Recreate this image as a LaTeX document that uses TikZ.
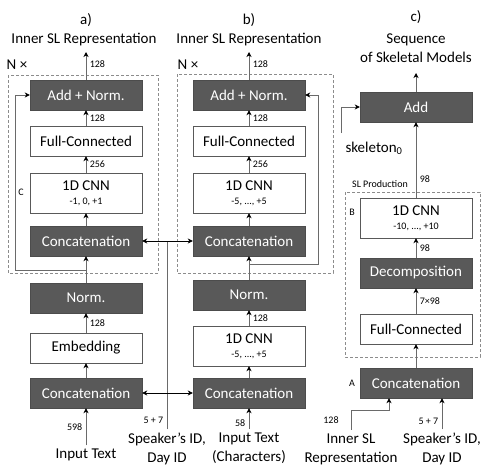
\documentclass[tikz,border=0pt]{standalone}
\usepackage{fontspec}
\setmainfont{Carlito}
\usepackage{tikz}
\usetikzlibrary{arrows.meta}
\definecolor{boxgray}{HTML}{595959}
\definecolor{linegray}{HTML}{6A6A6A}
\definecolor{dashgray}{HTML}{8C8C8C}

\begin{document}
\begin{tikzpicture}[x=1pt, y=-1pt,
  darkbox/.style={shape=rectangle, draw=boxgray!85!black, fill=boxgray, text=white, minimum width=112pt, minimum height=30pt, inner sep=0pt, font=\fontsize{15}{17}\selectfont},
  lightbox/.style={shape=rectangle, draw=boxgray, fill=white, minimum width=112pt, minimum height=30pt, inner sep=0pt, font=\fontsize{15}{17}\selectfont},
  cnnbox/.style={lightbox, minimum height=40pt, align=center},
  title/.style={align=center, font=\fontsize{15}{19}\selectfont},
  dim/.style={font=\fontsize{10}{11}\selectfont},
  flow/.style={draw=linegray, line width=0.9pt, -{Stealth[black, length=5pt, width=5pt, inset=1.5pt]}},
  both/.style={draw=black, line width=0.8pt, {Stealth[length=5pt, width=5pt, inset=1.5pt]}-{Stealth[length=5pt, width=5pt, inset=1.5pt]}},
  wire/.style={draw=linegray, line width=0.9pt},
  group/.style={draw=dashgray, dash pattern=on 3pt off 2pt, line width=0.6pt}
]
\useasboundingbox (0,0) rectangle (482,466);

% dashed groups
\draw[group] (8,75) rectangle (158,273);
\draw[group] (177,74) rectangle (333,273);
\draw[group] (345,192) rectangle (480,357);

% a)
\node[title](capA) at (86,20) {a)};
\node[title](outTA) at (84,40) {Inner SL Representation};
\node[title](nA) at (17,65) {N ×};
\node[dim](cA) at (21,192) {C};
\node[darkbox](addA) at (86,95) {Add + Norm.};
\node[lightbox](fcA) at (86,141) {Full-Connected};
\node[cnnbox](cnnA) at (86,193) {1D CNN\\[-3pt]\fontsize{10}{11}\selectfont -1, 0, +1};
\node[darkbox](catA) at (86,241) {Concatenation};
\node[darkbox](normA) at (86,298) {Norm.};
\node[lightbox](embA) at (86,348) {Embedding};
\node[darkbox](catA2) at (86,393) {Concatenation};
\node[title](inA) at (86,455) {Input Text};
\coordinate (outA) at (86,52);
\coordinate (resA) at (86,270);
\coordinate (loopA) at (15,95);

\path[flow] (addA) edge node[right, dim, pos=0.55] {128} (outA);
\path[flow] (fcA) edge node[right, dim] {128} (addA);
\path[flow] (cnnA) edge node[right, dim] {256} (fcA);
\path[flow] (catA) edge (cnnA);
\path[flow] (normA) edge (catA);
\path[flow] (embA) edge node[right, dim] {128} (normA);
\path[flow] (catA2) edge (embA);
\path[flow] (inA) edge node[left, dim] {598} (catA2);
\draw[flow] (resA) -| (loopA) -- (addA.west);

% speaker input shared by a) and b)
\node[title](spkA) at (167,449) {Speaker’s ID,\\Day ID};
\coordinate (jA) at (167,241);
\path[wire] (spkA) edge node[left, dim, pos=0.05] {5 + 7} (jA);

% b)
\node[title](capB) at (249,20) {b)};
\node[title](outTB) at (249,40) {Inner SL Representation};
\node[title](nB) at (188,65) {N ×};
\node[darkbox](addB) at (249,95) {Add + Norm.};
\node[lightbox](fcB) at (249,141) {Full-Connected};
\node[cnnbox](cnnB) at (249,193) {1D CNN\\[-3pt]\fontsize{10}{11}\selectfont -5, ..., +5};
\node[darkbox](catB) at (249,241) {Concatenation};
\node[darkbox](normB) at (249,295) {Norm.};
\node[cnnbox](cnnB2) at (249,346) {1D CNN\\[-3pt]\fontsize{10}{11}\selectfont -5, ..., +5};
\node[darkbox](catB2) at (249,393) {Concatenation};
\node[title](inB) at (249,448) {Input Text\\(Characters)};
\coordinate (outB) at (249,52);
\coordinate (resB) at (249,264);
\coordinate (loopB) at (318,95);

\path[flow] (addB) edge node[right, dim, pos=0.55] {128} (outB);
\path[flow] (fcB) edge node[right, dim] {128} (addB);
\path[flow] (cnnB) edge node[right, dim] {256} (fcB);
\path[flow] (catB) edge (cnnB);
\path[flow] (normB) edge (catB);
\path[flow] (cnnB2) edge node[right, dim] {128} (normB);
\path[flow] (catB2) edge (cnnB2);
\path[flow] (inB) edge node[left, dim, pos=0.3] {58} (catB2);
\draw[flow] (resB) -| (loopB) -- (addB.east);

\path[both] (catA) edge (catB);
\path[both] (catA2) edge (catB2);

% c)
\node[title](capC) at (416,17) {c)};
\node[title](outTC) at (416,48) {Sequence\\of Skeletal Models};
\node[dim](slp) at (380,184) {SL Production};
\node[dim](bC) at (352,212) {B};
\node[dim](aC) at (352,383) {A};
\node[darkbox](addC) at (416,107) {Add};
\node[cnnbox](cnnC) at (416,218) {1D CNN\\[-3pt]\fontsize{10}{11}\selectfont -10, ..., +10};
\node[darkbox](decC) at (416,273) {Decomposition};
\node[lightbox](fcC) at (416,329) {Full-Connected};
\node[darkbox](catC) at (416,383) {Concatenation};
\node[title](skel) at (374,148) {skeleton\textsubscript{0}};
\node[title](innC) at (351,449) {Inner SL\\Representation};
\node[title](spkC) at (442,449) {Speaker’s ID,\\Day ID};
\coordinate (outC) at (416,73);
\coordinate (skelS) at (341,133);
\coordinate (innK) at (389,410);

\path[flow] (addC) edge (outC);
\path[flow] (cnnC) edge node[right, dim, pos=0.25] {98} (addC);
\path[flow] (decC) edge node[right, dim] {98} (cnnC);
\path[flow] (fcC) edge node[right, dim] {7×98} (decC);
\path[flow] (catC) edge (fcC);
\draw[flow] (skelS) |- (addC.west);
\draw[flow] (innC) |- (innK) -- (innK |- catC.south);
\path[flow] (spkC) edge node[left, dim, pos=0.25] {5 + 7} (spkC |- catC.south);
\node[dim](n128C) at (331,420) {128};
\end{tikzpicture}
\end{document}
